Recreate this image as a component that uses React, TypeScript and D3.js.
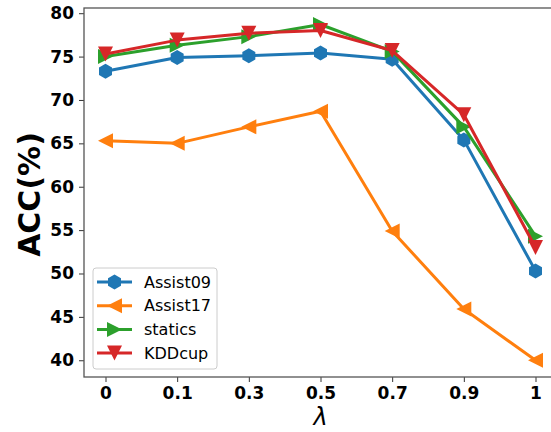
import React, { useEffect, useRef } from 'react';
import * as d3 from 'd3';

// valores
const lambdas = ['0', '0.1', '0.3', '0.5', '0.7', '0.9', '1'];
const assist09 = [73.3, 74.9, 75.1, 75.4, 74.7, 65.4, 50.3];
const assist17 = [65.3, 65.0, 66.9, 68.7, 54.9, 45.9, 40.0];
const statics = [75.0, 76.3, 77.3, 78.7, 75.6, 66.9, 54.3];
const kddcup = [75.3, 76.9, 77.7, 78.0, 75.7, 68.3, 53.0];
const yTicks = [40, 45, 50, 55, 60, 65, 70, 75, 80];

const series = [
  { name: 'Assist09', values: assist09, color: '#1f77b4', marker: 'hex' },
  { name: 'Assist17', values: assist17, color: '#ff7f0e', marker: 'left' },
  { name: 'statics', values: statics, color: '#2ca02c', marker: 'right' },
  { name: 'KDDcup', values: kddcup, color: '#d62728', marker: 'down' },
];

const W = 551;
const H = 432;
const margin = { top: 8, right: -6, bottom: 55, left: 84 };
const font = 'DejaVu Sans, sans-serif';

// forma del marcador centrada en 0,0
const markerPath = (type: string, s: number) => {
  const r = s / 2;
  if (type === 'hex') {
    const pts = d3.range(6).map(i => {
      const a = Math.PI / 2 + (i * Math.PI) / 3;
      return [r * Math.cos(a), r * Math.sin(a)];
    });
    return 'M' + pts.map(p => p.join(',')).join('L') + 'Z';
  }
  if (type === 'down') return `M${-r},${-r}L${r},${-r}L0,${r}Z`;
  if (type === 'left') return `M${-r},0L${r},${-r}L${r},${r}Z`;
  return `M${r},0L${-r},${-r}L${-r},${r}Z`;
};

const App = () => {
  const svgRef = useRef<SVGSVGElement>(null);

  useEffect(() => {
    const svg = d3.select(svgRef.current);
    svg.selectAll('*').remove();

    const x = d3.scaleLinear().domain([-0.3, 6.3]).range([margin.left, W - margin.right]);
    const y = d3.scaleLinear().domain([38.07, 80.6]).range([H - margin.bottom, margin.top]);

    const g = svg.append('g');

    // ejes
    const xAxis = g.append('g')
      .attr('transform', `translate(0,${H - margin.bottom})`)
      .call(d3.axisBottom(x).tickValues(d3.range(lambdas.length)).tickFormat(i => lambdas[i as number]).tickSize(5).tickPadding(5));
    const yAxis = g.append('g')
      .attr('transform', `translate(${margin.left},0)`)
      .call(d3.axisLeft(y).tickValues(yTicks).tickSize(5).tickPadding(5));
    [xAxis, yAxis].forEach(a => {
      a.select('.domain').remove();
      a.selectAll('line').attr('stroke', '#333').attr('stroke-width', 1);
      a.selectAll('text')
        .attr('fill', '#000')
        .style('font-family', font)
        .style('font-weight', 'bold')
        .style('font-size', '17px');
    });

    // marco
    g.append('rect')
      .attr('x', margin.left)
      .attr('y', margin.top)
      .attr('width', W - margin.right - margin.left)
      .attr('height', H - margin.bottom - margin.top)
      .attr('fill', 'none')
      .attr('stroke', '#555')
      .attr('stroke-width', 1.3);

    const line = d3.line<number>().x((_, i) => x(i)).y(d => y(d));

    series.forEach(s => {
      g.append('path')
        .attr('d', line(s.values))
        .attr('fill', 'none')
        .attr('stroke', s.color)
        .attr('stroke-width', 3)
        .attr('stroke-linejoin', 'round');
      g.selectAll(null)
        .data(s.values)
        .join('path')
        .attr('transform', (d, i) => `translate(${x(i)},${y(d)})`)
        .attr('d', markerPath(s.marker, 15))
        .attr('fill', s.color);
    });

    // leyenda
    const lg = g.append('g').attr('transform', 'translate(93,268)');
    lg.append('rect')
      .attr('width', 124)
      .attr('height', 101)
      .attr('rx', 3)
      .attr('fill', 'white')
      .attr('fill-opacity', 0.8)
      .attr('stroke', '#ccc');
    series.forEach((s, i) => {
      const yy = 14 + i * 23.7;
      lg.append('line')
        .attr('x1', 4).attr('x2', 39)
        .attr('y1', yy).attr('y2', yy)
        .attr('stroke', s.color).attr('stroke-width', 3);
      lg.append('path')
        .attr('transform', `translate(21.5,${yy})`)
        .attr('d', markerPath(s.marker, 15))
        .attr('fill', s.color);
      lg.append('text')
        .attr('x', 51)
        .attr('y', yy)
        .attr('dy', '0.36em')
        .style('font-family', font)
        .style('font-size', '16px')
        .text(s.name);
    });

    // títulos de ejes
    g.append('text')
      .attr('transform', `translate(29,${(margin.top + H - margin.bottom) / 2 + 2}) rotate(-90)`)
      .attr('text-anchor', 'middle')
      .attr('dy', '0.36em')
      .style('font-family', font)
      .style('font-weight', 'bold')
      .style('font-size', '30px')
      .text('ACC(%)');
    g.append('text')
      .attr('x', x(3))
      .attr('y', 425)
      .attr('text-anchor', 'middle')
      .style('font-family', font)
      .style('font-style', 'italic')
      .style('font-size', '24px')
      .text('λ');
  }, []);

  return (
    <svg ref={svgRef} width={W} height={H}
      style={{ position: 'absolute', left: 0, top: 0, background: 'white' }} />
  );
};

export default App;
